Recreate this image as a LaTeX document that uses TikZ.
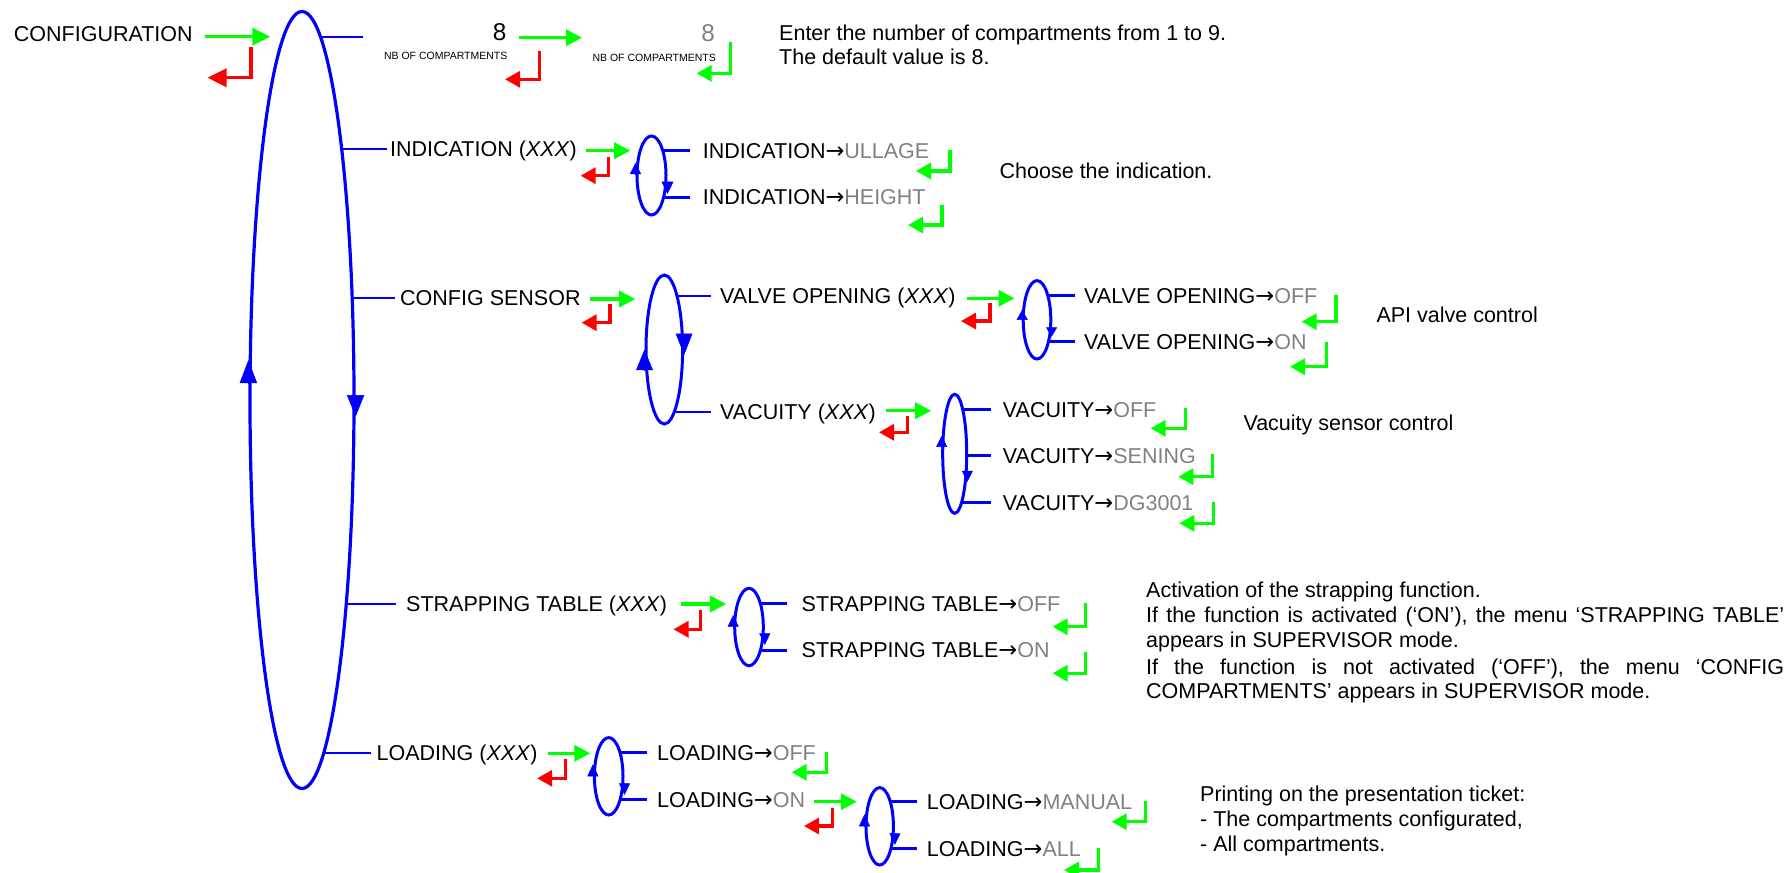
\documentclass[tikz,border=0pt]{standalone}
\usepackage{fontspec}
\setmainfont{Liberation Sans}
\newfontfamily\arrowfont{DejaVu Sans}
\usetikzlibrary{shapes.geometric,arrows.meta,calc}
\definecolor{okgreen}{RGB}{0,255,0}
\definecolor{cancelred}{RGB}{255,0,0}
\definecolor{menublue}{RGB}{0,0,255}
\definecolor{valgrey}{RGB}{128,128,128}
\newcommand\fsmain{\fontsize{21.5pt}{25pt}\selectfont}
\newcommand\fsbig{\fontsize{24.3pt}{28pt}\selectfont}
\newcommand\fstiny{\fontsize{10.5pt}{12pt}\selectfont}
\newcommand\val[1]{\textcolor{valgrey}{#1}}
\newcommand\goesto{{\arrowfont\fontsize{22.5pt}{25pt}\selectfont →}}
\pgfdeclarelayer{background}
\pgfsetlayers{background,main}

\tikzset{
  lbl/.style={inner sep=0pt, anchor=west, text height=15.4pt, text depth=0pt, font=\fsmain},
  biglbl/.style={inner sep=0pt, anchor=east, text height=17.4pt, text depth=0pt, font=\fsbig},
  tinylbl/.style={inner sep=0pt, anchor=east, text height=7.5pt, text depth=0pt, font=\fstiny},
  menuloop/.style 2 args={ellipse, draw=menublue, fill=white, line width=3pt,
    inner sep=0pt, minimum width=#1pt, minimum height=#2pt},
  thinbr/.style={draw=menublue, line width=1.7pt},
  thickbr/.style={draw=menublue, line width=3pt},
  fwd/.style={draw=okgreen, line width=3.2pt, -{Triangle[length=16pt,width=16pt]}},
  backline/.style={line width=3.2pt, -{Triangle[length=15pt,width=16pt]}},
  looptip/.style 2 args={draw=menublue, line width=0.5pt, -{Triangle[length=#1pt,width=#2pt]}},
  pics/back/.style 2 args={code={\draw[backline] (0,0) -- (0,#1) -- (-#2,#1);}},
}

\begin{document}
\begin{tikzpicture}[x=1pt,y=-1pt]
\useasboundingbox (0,0) rectangle (1789,873);

% ---------- labels ----------
\node[lbl] (cfg) at (13.7,34.2) {CONFIGURATION};
\node[biglbl] (nbval) at (506.7,32) {8};
\node[tinylbl] (nbcap) at (507.5,55.3) {NB OF COMPARTMENTS};
\node[biglbl, text=valgrey] (nbnew) at (715,33) {8};
\node[tinylbl] (nbcap2) at (716,57.3) {NB OF COMPARTMENTS};
\node[lbl] (enter1) at (779,33) {Enter the number of compartments from 1 to 9.};
\node[lbl] (enter2) at (779,57) {The default value is 8.};

\node[lbl] (ind) at (390,149) {INDICATION (\textit{XXX})};
\node[lbl] (indU) at (702.7,150.7) {INDICATION\goesto\val{ULLAGE}};
\node[lbl] (indH) at (702.7,197) {INDICATION\goesto\val{HEIGHT}};
\node[lbl] (indnote) at (999.5,171) {Choose the indication.};

\node[lbl] (cs) at (400,298) {CONFIG SENSOR};
\node[lbl] (vo) at (720,296) {VALVE OPENING (\textit{XXX})};
\node[lbl] (vac) at (720,411.7) {VACUITY (\textit{XXX})};
\node[lbl] (voOff) at (1084,295.7) {VALVE OPENING\goesto\val{OFF}};
\node[lbl] (voOn) at (1084,341.7) {VALVE OPENING\goesto\val{ON}};
\node[lbl] (vonote) at (1376.3,315) {API valve control};
\node[lbl] (vacOff) at (1002.7,409.3) {VACUITY\goesto\val{OFF}};
\node[lbl] (vacSen) at (1002.7,455.7) {VACUITY\goesto\val{SENING}};
\node[lbl] (vacDg) at (1002.7,502.7) {VACUITY\goesto\val{DG3001}};
\node[lbl] (vacnote) at (1243.3,423) {Vacuity sensor control};

\node[lbl] (st) at (406,604) {STRAPPING TABLE (\textit{XXX})};
\node[lbl] (stOff) at (801.5,603.3) {STRAPPING TABLE\goesto\val{OFF}};
\node[lbl] (stOn) at (801.5,650) {STRAPPING TABLE\goesto\val{ON}};
\node[lbl] (stn1) at (1146,590) {Activation of the strapping function.};
\node[lbl] (stn2) at (1146,615) {\makebox[638pt][s]{If the function is activated (‘ON’), the menu ‘STRAPPING TABLE’}};
\node[lbl] (stn3) at (1146,640) {appears in SUPERVISOR mode.};
\node[lbl] (stn4) at (1146,666.7) {\makebox[638pt][s]{If the function is not activated (‘OFF’), the menu ‘CONFIG}};
\node[lbl] (stn5) at (1146,690.7) {COMPARTMENTS’ appears in SUPERVISOR mode.};

\node[lbl] (ld) at (376.5,753) {LOADING (\textit{XXX})};
\node[lbl] (ldOff) at (657,752.7) {LOADING\goesto\val{OFF}};
\node[lbl] (ldOn) at (657,799.3) {LOADING\goesto\val{ON}};
\node[lbl] (ldMan) at (926.7,801.7) {LOADING\goesto\val{MANUAL}};
\node[lbl] (ldAll) at (926.7,848.3) {LOADING\goesto\val{ALL}};
\node[lbl] (ldn1) at (1200,793.3) {Printing on the presentation ticket:};
\node[lbl] (ldn2) at (1200,818.5) {- The compartments configurated,};
\node[lbl] (ldn3) at (1200,843.5) {- All compartments.};

% ---------- menu loops ----------
\node[menuloop={104}{777}, line width=3.2pt] (M) at (302,400) {};
\node[menuloop={29}{79}] (I) at (651.5,175.5) {};
\node[menuloop={36.6}{149}] (C) at (664.3,349.5) {};
\node[menuloop={27.6}{78.4}] (V) at (1037,319.8) {};
\node[menuloop={24}{119}] (VC) at (954.7,453.8) {};
\node[menuloop={28.6}{77.4}] (S) at (749,627) {};
\node[menuloop={28.6}{77.4}] (L) at (608.7,776.3) {};
\node[menuloop={27.4}{77.4}] (LS) at (879.7,826.3) {};

% ---------- branches (under the loops) ----------
\coordinate (topend) at (362.6,37);
\begin{pgfonlayer}{background}
  \draw[thinbr] (M.center |- topend) -- (topend);
  \draw[thinbr, shorten >=3pt] (M.center |- ind.west) -- (ind.west);
  \draw[thinbr, shorten >=5pt] (M.center |- cs.west) -- (cs.west);
  \draw[thinbr, shorten >=10pt] (M.center |- st.west) -- (st.west);
  \draw[thinbr, shorten >=6pt] (M.center |- ld.west) -- (ld.west);

  \draw[thickbr, shorten >=13pt] (I.center |- indU.west) -- (indU.west);
  \draw[thickbr, shorten >=13pt] (I.center |- indH.west) -- (indH.west);

  \draw[thinbr, shorten >=9.3pt] (C.center |- vo.west) -- (vo.west);
  \draw[thinbr, shorten >=9.3pt] (C.center |- vac.west) -- (vac.west);

  \draw[thickbr, shorten >=9pt] (V.center |- voOff.west) -- (voOff.west);
  \draw[thickbr, shorten >=9pt] (V.center |- voOn.west) -- (voOn.west);

  \draw[thickbr, shorten >=12pt] (VC.center |- vacOff.west) -- (vacOff.west);
  \draw[thickbr, shorten >=12pt] (VC.center |- vacSen.west) -- (vacSen.west);
  \draw[thickbr, shorten >=12pt] (VC.center |- vacDg.west) -- (vacDg.west);

  \draw[thickbr, shorten >=14.5pt] (S.center |- stOff.west) -- (stOff.west);
  \draw[thickbr, shorten >=14.5pt] (S.center |- stOn.west) -- (stOn.west);

  \draw[thickbr, shorten >=10pt] (L.center |- ldOff.west) -- (ldOff.west);
  \draw[thickbr, shorten >=10pt] (L.center |- ldOn.west) -- (ldOn.west);

  \draw[thickbr, shorten >=10pt] (LS.center |- ldMan.west) -- (ldMan.west);
  \draw[thickbr, shorten >=10pt] (LS.center |- ldAll.west) -- (ldAll.west);
\end{pgfonlayer}

% ---------- direction marks on the loops ----------
\draw[looptip={23}{17.3}] ($(M.west)+(0,-17)$) -- ($(M.west)+(0,-40)$);
\draw[looptip={21.7}{17.3}] ($(M.east)+(0,-5)$) -- ($(M.east)+(0,16.7)$);
\draw[looptip={11}{11}] ($(I.west)+(0,-1.5)$) -- ($(I.west)+(0,-12.5)$);
\draw[looptip={12.5}{12}] ($(I.east)+(0,6)$) -- ($(I.east)+(0,18.5)$);
\draw[looptip={21.5}{16.7}] ($(C.east)+(0,-16)$) -- ($(C.east)+(0,5.5)$);
\draw[looptip={20.5}{16.7}] ($(C.west)+(0,20.5)$) -- ($(C.west)+(0,0)$);
\draw[looptip={10}{11}] ($(V.west)+(0.5,0)$) -- ($(V.west)+(0.5,-10)$);
\draw[looptip={9.5}{11}] ($(V.east)+(-0.7,7.5)$) -- ($(V.east)+(-0.7,17)$);
\draw[looptip={11}{11}] ($(VC.west)+(0.5,-7)$) -- ($(VC.west)+(0.5,-18)$);
\draw[looptip={11}{11}] ($(VC.east)+(-0.8,17)$) -- ($(VC.east)+(-0.8,28)$);
\draw[looptip={11.7}{11}] ($(S.west)+(0,-0.3)$) -- ($(S.west)+(0,-12)$);
\draw[looptip={11.7}{11}] ($(S.east)+(0,6.3)$) -- ($(S.east)+(0,18)$);
\draw[looptip={12}{11}] ($(L.west)+(0,0.4)$) -- ($(L.west)+(0,-12)$);
\draw[looptip={11.7}{11}] ($(L.east)+(0,7)$) -- ($(L.east)+(0,18.7)$);
\draw[looptip={12}{11}] ($(LS.west)+(0,0)$) -- ($(LS.west)+(0,-12)$);
\draw[looptip={11.5}{11}] ($(LS.east)+(0,7)$) -- ($(LS.east)+(0,18.5)$);

% ---------- enter arrows ----------
\draw[draw=okgreen, line width=3.2pt, -{Triangle[length=18pt,width=17pt]}]
  ($(cfg.east)+(12,2.5)$) -- ++(65.5,0);
\draw[fwd] ($(nbval.east)+(12.3,5.7)$) -- ++(63,0);
\draw[fwd] ($(ind.east)+(8.5,1.7)$) -- ($(ind.east -| I.west)+(-5.3,1.7)$);
\draw[fwd] ($(cs.east)+(9.6,1)$) -- ($(cs.east -| C.west)+(-9.3,1)$);
\draw[fwd] ($(vo.east)+(11.2,2.3)$) -- ($(vo.east -| V.west)+(-7.2,2.3)$);
\draw[fwd] ($(vac.east)+(10.2,-1)$) -- ($(vac.east -| VC.west)+(-10,-1)$);
\draw[fwd] ($(st.east)+(13.9,0)$) -- ($(st.east -| S.west)+(-7.1,0)$);
\draw[fwd] ($(ld.east)+(9.9,0.3)$) -- ($(ld.east -| L.west)+(-2.6,0.3)$);
\draw[fwd] ($(ldOn.east)+(8.8,2.4)$) -- ($(ldOn.east -| LS.west)+(-7.7,2.4)$);

% ---------- return (escape / validate) marks ----------
\draw[cancelred, line width=3.2pt, -{Triangle[length=19pt,width=18pt]}]
  (251,46.7) -- (251,77.7) -- (207.5,77.7);
\pic[cancelred] at (539.3,51) {back={28.3}{34.3}};
\pic[okgreen] at (730.7,41.7) {back={31.6}{34}};

\pic[cancelred] at (608.3,157.3) {back={18.4}{27.6}};
\pic[okgreen] at (950,150) {back={21}{34}};
\pic[okgreen] at (942,205) {back={20}{34}};

\pic[cancelred] at (610,304) {back={18.7}{28.3}};
\pic[cancelred] at (990,303.3) {back={17.7}{29}};
\pic[okgreen] at (1336,295) {back={26.7}{34.3}};
\pic[okgreen] at (1326.4,341.7) {back={25}{36.4}};

\pic[cancelred] at (907.7,415.7) {back={16.6}{28.7}};
\pic[okgreen] at (1185.7,408.3) {back={20}{35}};
\pic[okgreen] at (1212.3,454) {back={22.7}{34}};
\pic[okgreen] at (1213.3,501.7) {back={21.6}{34}};

\pic[cancelred] at (700.5,610) {back={19.3}{27}};
\pic[okgreen] at (1085.7,603.3) {back={23.4}{33.1}};
\pic[okgreen] at (1085.7,651.7) {back={21.6}{33.1}};

\pic[cancelred] at (565.3,759.3) {back={19}{28.1}};
\pic[okgreen] at (826.7,751.7) {back={20.6}{35}};
\pic[cancelred] at (832.7,807.7) {back={18.3}{28.7}};
\pic[okgreen] at (1145.7,801) {back={20.7}{34}};
\pic[okgreen] at (1098.3,848.3) {back={21.7}{34.3}};
\end{tikzpicture}
\end{document}
